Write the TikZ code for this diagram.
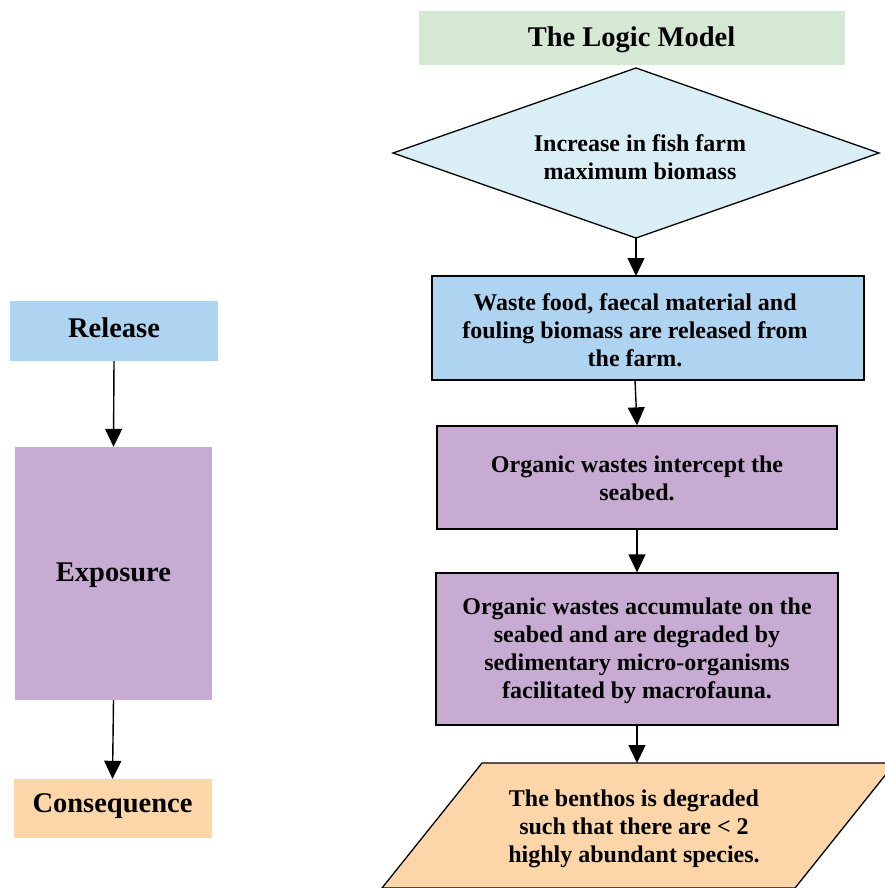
\documentclass[tikz,border=0pt]{standalone}
\usepackage{fontspec}
\setmainfont{Liberation Serif}
\usetikzlibrary{arrows.meta,shapes.geometric}
\definecolor{cgreen}{HTML}{D5E8D4}
\definecolor{cdiam}{HTML}{DAEEF5}
\definecolor{cblue}{HTML}{AED4F1}
\definecolor{cpurple}{HTML}{C8ABD3}
\definecolor{corange}{HTML}{FCD5A8}
\tikzset{
  body/.style={font=\bfseries\fontsize{24}{28}\selectfont, align=center, inner sep=0pt},
  big/.style={font=\bfseries\fontsize{28.5}{32}\selectfont, align=center, inner sep=0pt},
  flowbox/.style={draw=black, line width=1.3pt, inner sep=0pt},
  flat/.style={inner sep=0pt},
  conn/.style={line width=1.4pt, -{Triangle[width=17pt,length=18pt]}}
}
\begin{document}
\begin{tikzpicture}[x=1pt,y=-1pt]
\useasboundingbox (0,0) rectangle (885,888);
\clip (0,0) rectangle (885,888);
% title
\node[flat, fill=cgreen, minimum width=426pt, minimum height=54pt] (title) at (631.5,38) {};
\node[big] at (631.5,40) {The Logic Model};
% diamond
\path[draw=black, line width=1.3pt, fill=cdiam] (393,153) -- (636,68) -- (879,153) -- (636,238) -- cycle;
\coordinate (dbot) at (636,238);
\node[body] (dtext) at (640,157) {Increase in fish farm\\maximum biomass};
% box 2
\node[flowbox, fill=cblue, minimum width=432pt, minimum height=104pt] (b2) at (648,328) {};
\node[body] at (635,330) {Waste food, faecal material and\\fouling biomass are released from\\the farm.};
% box 3
\node[flowbox, fill=cpurple, minimum width=400pt, minimum height=103pt] (b3) at (637,477.5) {};
\node[body] at (637,478) {Organic wastes intercept the\\seabed.};
% box 4
\node[flowbox, fill=cpurple, minimum width=402pt, minimum height=152pt] (b4) at (637,649) {};
\node[body] at (637,651) {Organic wastes accumulate on the\\seabed and are degraded by\\sedimentary micro-organisms\\facilitated by macrofauna.};
% parallelogram
\path[draw=black, line width=1.3pt, fill=corange] (482,763) -- (895,763) -- (795,888) -- (382,888) -- cycle;
\coordinate (ptop) at (637,763);
\node[body] (ptext) at (634,829) {The benthos is degraded\\such that there are < 2\\highly abundant species.};
% left column
\node[flat, fill=cblue, minimum width=208pt, minimum height=60pt] (rel) at (114,331) {};
\node[big] at (114,328) {Release};
\node[flat, fill=cpurple, minimum width=197pt, minimum height=253pt] (exp) at (113.5,573.5) {};
\node[big] at (113.5,575) {Exposure};
\node[flat, fill=corange, minimum width=198pt, minimum height=59pt] (con) at (112.5,808.5) {};
\node[big] at (112.5,806) {Consequence};
% connectors
\draw[conn] (dbot) -- (636,276);
\draw[conn] (635,380) -- (b3.north -| 637,0);
\draw[conn] (b3.south) -- (b4.north);
\draw[conn] (b4.south) -- (ptop);
\draw[conn] (rel.south) -- (exp.north);
\draw[conn] (exp.south) -- (con.north);
\end{tikzpicture}
\end{document}
